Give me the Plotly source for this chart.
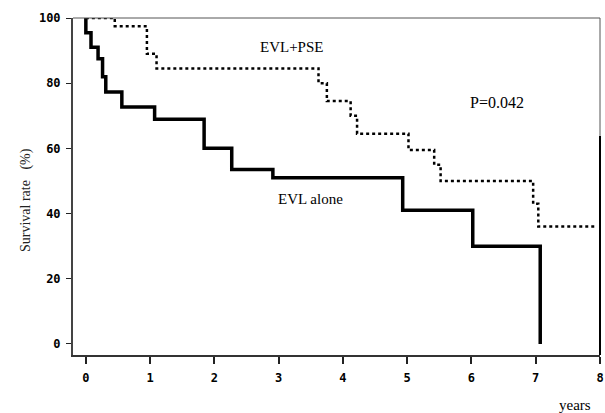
import plotly.graph_objects as go

# EVL alone (solid)
evl_t = [0.0, 0.0, 0.08, 0.19, 0.26, 0.31, 0.56, 1.07, 1.84, 2.27, 2.91, 4.93, 6.02, 7.07, 7.07]
evl_s = [100, 95.5, 91, 87.5, 82, 77.3, 72.7, 68.9, 60, 53.5, 51, 41, 30, 30, 0]

# EVL+PSE (dotted)
pse_t = [0.0, 0.45, 0.95, 1.1, 3.62, 3.75, 4.12, 4.22, 5.02, 5.42, 5.52, 6.96, 7.04, 7.92]
pse_s = [100, 97.5, 89, 84.5, 80, 74.5, 70, 64.5, 59.5, 55, 50, 43, 36, 36]

x_ticks = [0, 1, 2, 3, 4, 5, 6, 7, 8]
y_ticks = [0, 20, 40, 60, 80, 100]

fig = go.Figure()
fig.add_trace(go.Scatter(x=pse_t, y=pse_s, mode="lines", line_shape="hv",
                         line=dict(color="black", width=2.5, dash="dot"), showlegend=False))
fig.add_trace(go.Scatter(x=evl_t, y=evl_s, mode="lines", line_shape="hv",
                         line=dict(color="black", width=3.5), showlegend=False))

serif = "Liberation Serif, Times New Roman, serif"
mono = "DejaVu Sans Mono, monospace"

fig.update_layout(
    width=605, height=413,
    margin=dict(l=73, r=5, t=18, b=58),
    paper_bgcolor="white", plot_bgcolor="white",
    xaxis=dict(range=[-0.2, 8], tickvals=x_ticks, ticks="outside", ticklen=7,
               tickwidth=1.5, tickcolor="#222", showgrid=False, zeroline=False,
               showline=True, linecolor="#333", linewidth=2, mirror=False,
               automargin=False, ticklabelstandoff=4,
               tickfont=dict(family=mono, size=12, color="black", weight="bold")),
    yaxis=dict(range=[-3.4, 100], tickvals=y_ticks, ticks="outside", ticklen=5,
               tickwidth=1, tickcolor="#222", showgrid=False, zeroline=False,
               showline=True, linecolor="#444", linewidth=2, automargin=False,
               ticklabelstandoff=3,
               tickfont=dict(family=mono, size=12, color="black", weight="bold")),
    shapes=[
        dict(type="line", xref="paper", yref="paper", x0=0, x1=1, y0=1, y1=1,
             line=dict(color="#555", width=1)),
        dict(type="line", xref="paper", yref="paper", x0=1, x1=1, y0=1, y1=0.65,
             line=dict(color="#555", width=1)),
        dict(type="line", xref="paper", yref="paper", x0=1, x1=1, y0=0.65, y1=0,
             line=dict(color="black", width=2)),
    ],
    annotations=[
        dict(x=3.2, y=91, text="EVL+PSE", showarrow=False, xref="x", yref="y",
             font=dict(family=serif, size=15, color="black")),
        dict(x=3.5, y=44.5, text="EVL alone", showarrow=False, xref="x", yref="y",
             font=dict(family=serif, size=15, color="black")),
        dict(x=6.4, y=74, text="P=0.042", showarrow=False, xref="x", yref="y",
             font=dict(family=serif, size=16, color="black")),
        dict(x=(575 - 73) / 527, y=-(405 - 355) / 337, text="years", showarrow=False,
             xref="paper", yref="paper", xanchor="center", yanchor="middle",
             font=dict(family=serif, size=15, color="black")),
        dict(x=(26 - 73) / 527, y=(355 - 200) / 337,
             text="Survival rate&nbsp;&nbsp;&nbsp;(%)", showarrow=False, textangle=-90,
             xref="paper", yref="paper", xanchor="center", yanchor="middle",
             font=dict(family=serif, size=14, color="#222")),
    ],
)

fig.write_html("out.html", config={"displayModeBar": False},
               post_script="document.body.style.margin='0';document.body.style.overflow='hidden';")
